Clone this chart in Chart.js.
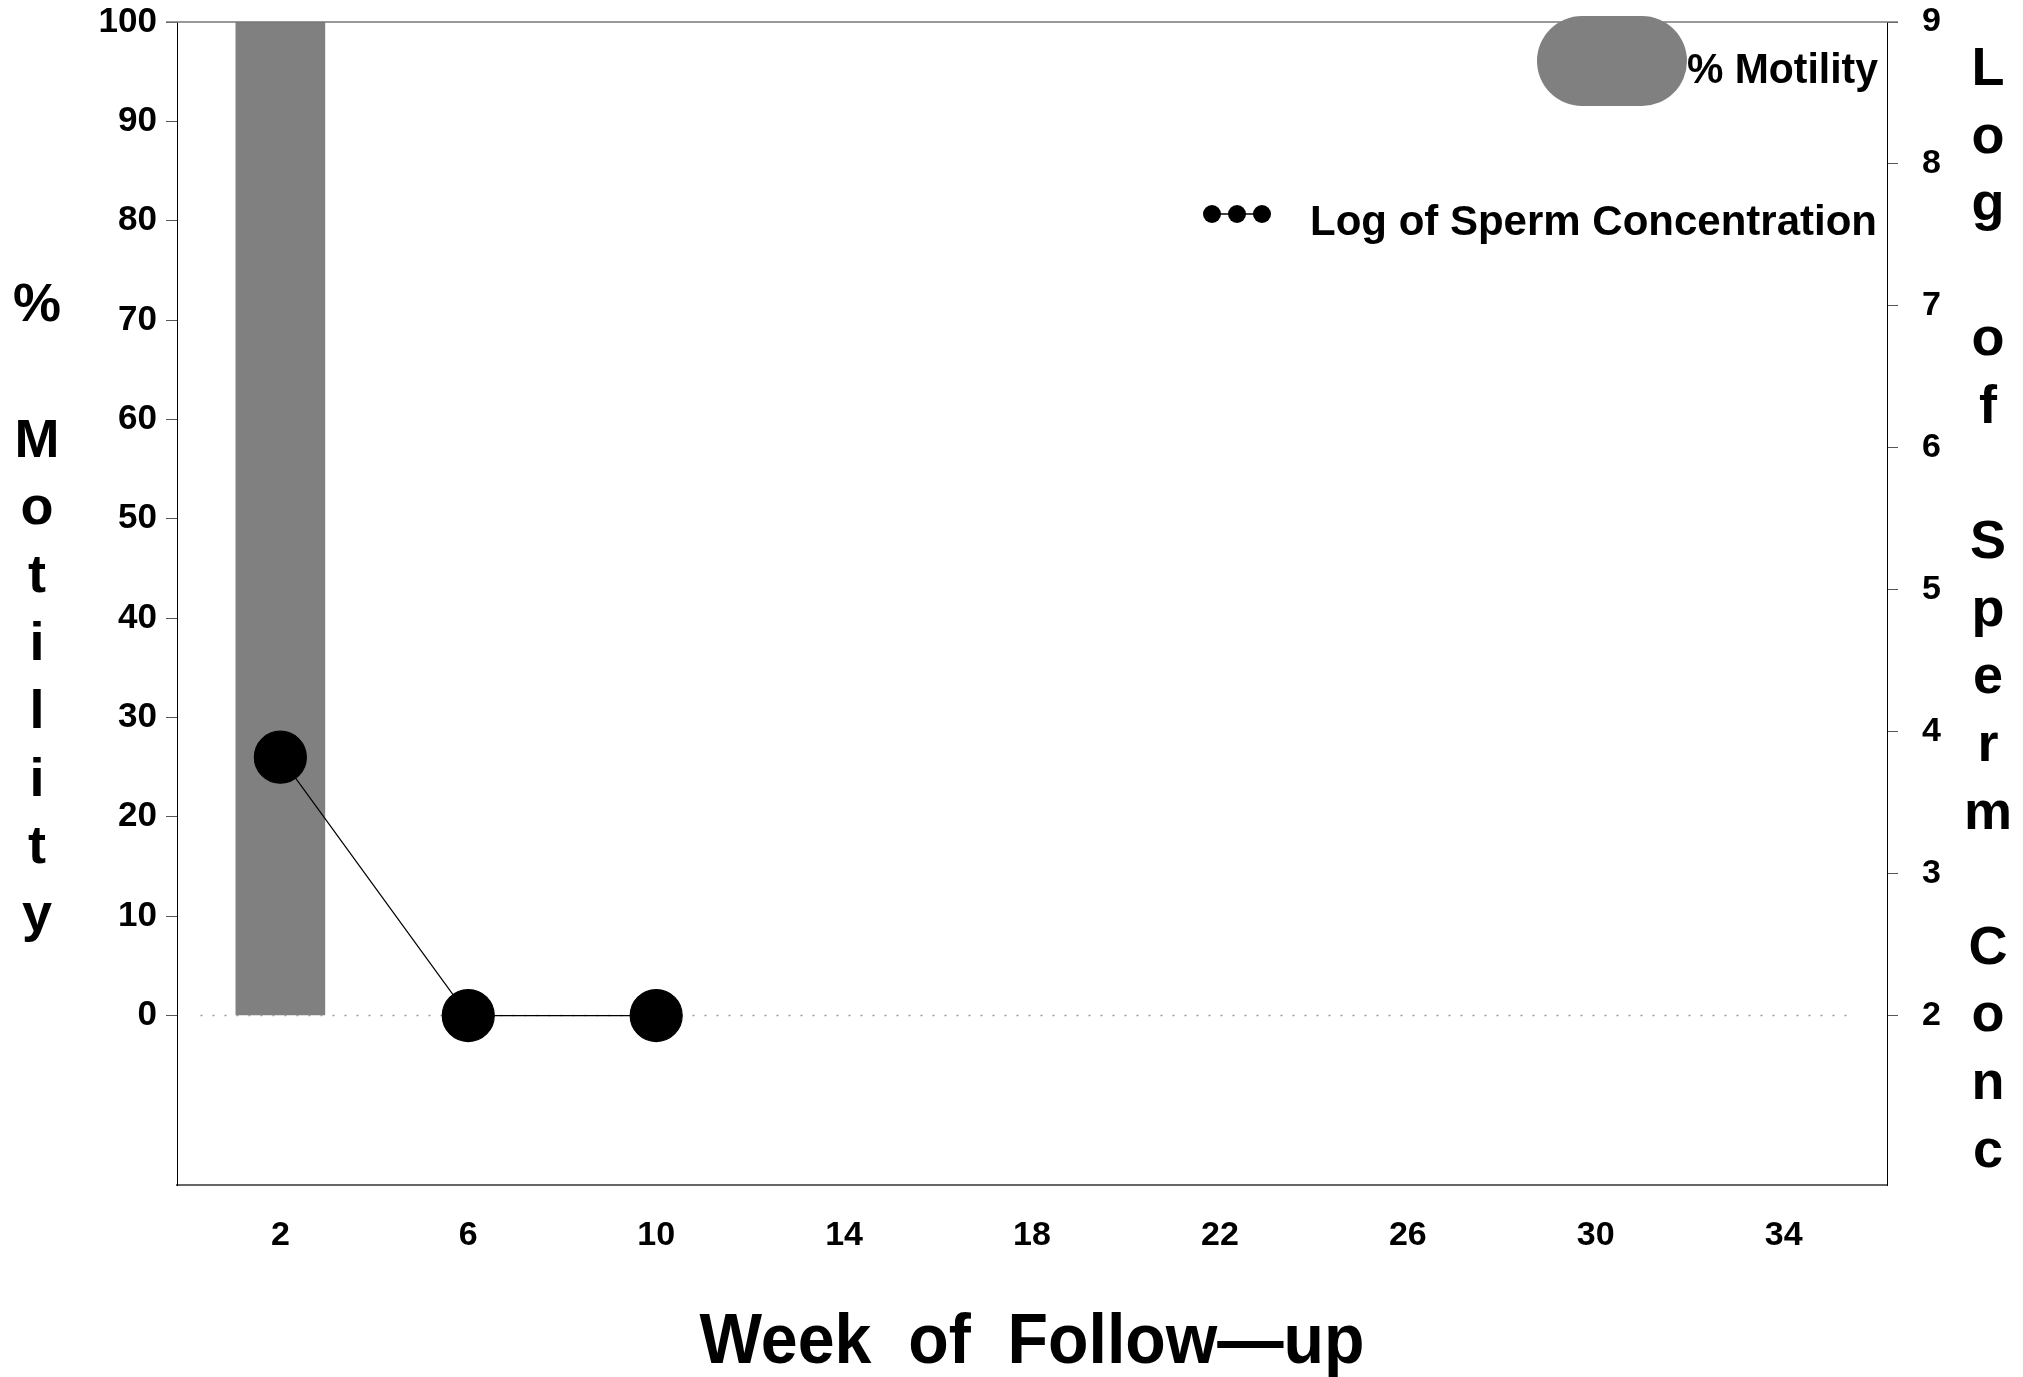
<!DOCTYPE html>
<html>
<head>
<meta charset="utf-8">
<title>Motility and Sperm Concentration</title>
<script src="https://cdn.jsdelivr.net/npm/chart.js@4/dist/chart.umd.min.js"></script>
<style>
  html, body { margin: 0; padding: 0; background: #fff; }
  #wrap { width: 2023px; height: 1377px; }
</style>
</head>
<body>
<div id="wrap"><canvas id="spermChart" width="2023" height="1377"></canvas></div>
<script>
// values
const motilityWeeks = [2];
const motility = [100];
const concWeeks = [2, 6, 10];
const logConc = [3.82, 2, 2];
const zeroLineWeeks = [0.3, 35.5];

const xTicks = [2, 6, 10, 14, 18, 22, 26, 30, 34];
const yTicks = [0, 10, 20, 30, 40, 50, 60, 70, 80, 90, 100];
const y1Ticks = [2, 3, 4, 5, 6, 7, 8, 9];

const FONT = '"Liberation Sans", Arial, Helvetica, sans-serif';

// draw text squeezed/stretched to a given width
function fitText(ctx, text, x, y, w, align) {
  const m = ctx.measureText(text).width;
  ctx.save();
  ctx.translate(x, y);
  ctx.scale(w / m, 1);
  ctx.textAlign = align;
  ctx.fillText(text, 0, 0);
  ctx.restore();
}

// no label overhang, so layout.padding alone sets the plot box
function noOverhang(s) {
  s.paddingTop = 0;
  s.paddingBottom = 0;
  s.paddingLeft = 0;
  s.paddingRight = 0;
}

const decorations = {
  id: 'decorations',
  afterDatasetsDraw(chart) {
    const ctx = chart.ctx;
    const area = chart.chartArea;
    // top frame line
    ctx.save();
    ctx.strokeStyle = '#777';
    ctx.lineWidth = 1.5;
    ctx.beginPath();
    ctx.moveTo(area.left - 11, area.top);
    ctx.lineTo(area.right + 11, area.top);
    ctx.stroke();
    ctx.restore();
  },
  afterDraw(chart) {
    const ctx = chart.ctx;
    ctx.save();
    ctx.fillStyle = '#000';
    ctx.textBaseline = 'alphabetic';

    // legend: motility
    ctx.fillStyle = '#808080';
    ctx.beginPath();
    ctx.roundRect(1537, 16, 150, 90, 45);
    ctx.fill();
    ctx.fillStyle = '#000';
    ctx.font = 'bold 42px ' + FONT;
    fitText(ctx, '% Motility', 1878, 83, 191, 'right');

    // legend: sperm concentration
    ctx.strokeStyle = '#000';
    ctx.lineWidth = 1.5;
    ctx.beginPath();
    ctx.moveTo(1212, 214);
    ctx.lineTo(1262, 214);
    ctx.stroke();
    [1212, 1237, 1262].forEach(cx => {
      ctx.beginPath();
      ctx.arc(cx, 214, 9, 0, Math.PI * 2);
      ctx.fill();
    });
    fitText(ctx, 'Log of Sperm Concentration', 1877, 235, 567, 'right');

    // axis titles, one letter per line
    ctx.font = 'bold 54px ' + FONT;
    ctx.textAlign = 'center';
    '% Motility'.split('').forEach((c, i) => {
      ctx.fillText(c, 37, 321 + i * 67.8);
    });
    'Log of Sperm Conc'.split('').forEach((c, i) => {
      ctx.fillText(c, 1988, 85 + i * 67.6);
    });

    ctx.font = 'bold 71px ' + FONT;
    fitText(ctx, 'Week  of  Follow\u2014up', 1032, 1363, 665, 'center');
    ctx.restore();
  }
};

const ctx = document.getElementById('spermChart').getContext('2d');
new Chart(ctx, {
  type: 'bar',
  data: {
    datasets: [
      {
        type: 'line',
        label: 'Log of Sperm Concentration',
        data: concWeeks.map((w, i) => ({ x: w, y: logConc[i] })),
        yAxisID: 'y1',
        borderColor: '#000',
        borderWidth: 1.2,
        pointRadius: 26,
        pointBackgroundColor: '#000',
        pointBorderColor: '#000',
        order: 1
      },
      {
        type: 'line',
        label: 'zero',
        data: zeroLineWeeks.map(w => ({ x: w, y: 0 })),
        yAxisID: 'y',
        borderColor: '#999',
        borderWidth: 1.5,
        borderDash: [2, 10],
        pointRadius: 0,
        order: 2
      },
      {
        type: 'bar',
        label: '% Motility',
        data: motilityWeeks.map((w, i) => ({ x: w, y: motility[i] })),
        yAxisID: 'y',
        backgroundColor: '#808080',
        borderWidth: 0,
        barThickness: 89,
        order: 3
      }
    ]
  },
  options: {
    responsive: false,
    animation: false,
    layout: { autoPadding: false, padding: { top: 22, left: 0, right: 0, bottom: 0 } },
    plugins: {
      legend: { display: false },
      tooltip: { enabled: false }
    },
    scales: {
      x: {
        type: 'linear',
        offset: false,
        min: -0.2,
        max: 36.2,
        afterBuildTicks: s => { s.ticks = xTicks.map(v => ({ value: v })); },
        afterFit: s => { s.height = 192; noOverhang(s); },
        grid: { display: false, drawTicks: false, offset: false },
        border: { display: true, color: '#666', width: 2 },
        ticks: {
          color: '#000',
          font: { family: FONT, size: 34, weight: 'bold' },
          padding: 30,
          maxRotation: 0,
          autoSkip: false
        }
      },
      y: {
        type: 'linear',
        position: 'left',
        min: -17.06,
        max: 100,
        afterBuildTicks: s => { s.ticks = yTicks.map(v => ({ value: v })); },
        afterFit: s => { s.width = 177; noOverhang(s); },
        grid: { drawOnChartArea: false, drawTicks: true, tickLength: 11, color: '#555' },
        border: { display: true, color: '#000', width: 1 },
        ticks: {
          color: '#000',
          font: { family: FONT, size: 35, weight: 'bold' },
          padding: 9,
          autoSkip: false
        }
      },
      y1: {
        type: 'linear',
        position: 'right',
        min: 0.806,
        max: 9,
        afterBuildTicks: s => { s.ticks = y1Ticks.map(v => ({ value: v })); },
        afterFit: s => { s.width = 136; noOverhang(s); },
        grid: { drawOnChartArea: false, drawTicks: true, tickLength: 11, color: '#555' },
        border: { display: true, color: '#000', width: 1 },
        ticks: {
          color: '#000',
          font: { family: FONT, size: 34, weight: 'bold' },
          padding: 24,
          autoSkip: false
        }
      }
    }
  },
  plugins: [decorations]
});
</script>
</body>
</html>
